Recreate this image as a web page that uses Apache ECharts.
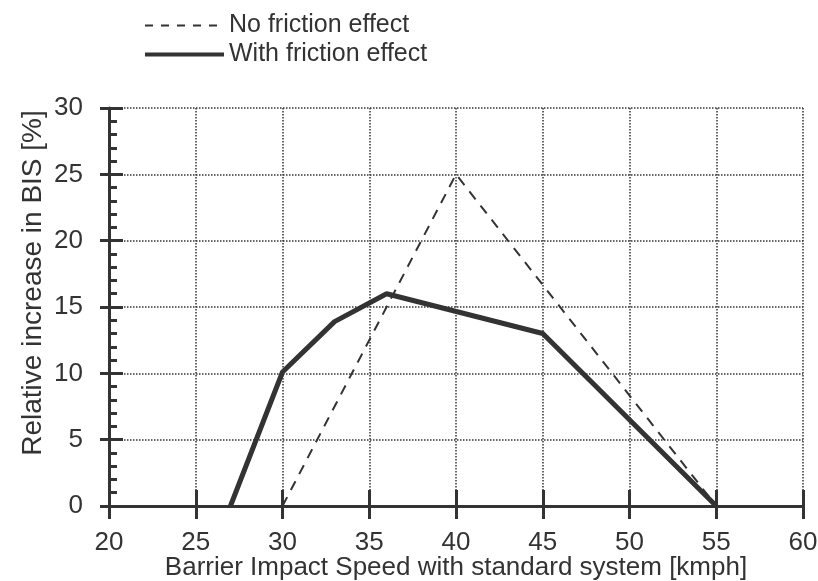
<!DOCTYPE html>
<html>
<head>
<meta charset="utf-8">
<script src="https://cdn.jsdelivr.net/npm/echarts@6/dist/echarts.min.js"></script>
<style>
  html, body { margin: 0; padding: 0; background: #fff; }
  #chart { width: 818px; height: 581px; }
</style>
</head>
<body>
<div id="chart"></div>
<script>
// 数据
const seriesNames = ['No friction effect', 'With friction effect'];
const noFrictionX = [30, 40, 55];
const noFrictionY = [0, 25, 0];
const withFrictionX = [27, 30, 33, 36, 45, 55];
const withFrictionY = [0, 10.1, 13.9, 16, 13, 0];
const xTicks = [20, 25, 30, 35, 40, 45, 50, 55, 60];
const yTicks = [0, 5, 10, 15, 20, 25, 30];

const ink = '#333';
const font = 'Liberation Sans, Arial, Helvetica, sans-serif';

function pairs(xs, ys) {
  return xs.map((x, i) => [x, ys[i]]);
}

const chart = echarts.init(document.getElementById('chart'), null, { renderer: 'canvas' });

const xBase = {
  type: 'value',
  min: xTicks[0],
  max: xTicks[xTicks.length - 1],
  interval: 5,
  position: 'bottom'
};
const yBase = {
  type: 'value',
  min: yTicks[0],
  max: yTicks[yTicks.length - 1],
  interval: 5,
  position: 'left'
};

const option = {
  backgroundColor: '#fff',
  animation: false,
  textStyle: { fontFamily: font, color: ink },
  legend: {
    orient: 'vertical',
    left: 143,
    top: 13,
    padding: 0,
    itemWidth: 79,
    itemHeight: 26,
    itemGap: 4,
    data: [
      { name: seriesNames[0], lineStyle: { width: 2, type: [8, 8] } },
      { name: seriesNames[1], lineStyle: { width: 4 } }
    ],
    itemStyle: { opacity: 0 },
    textStyle: { fontSize: 25, color: ink, fontFamily: font }
  },
  grid: { left: 109, right: 15, top: 108, bottom: 75, outerBoundsMode: 'none', containLabel: false },
  xAxis: [
    Object.assign({}, xBase, {
      name: 'Barrier Impact Speed with standard system [kmph]',
      nameLocation: 'middle',
      nameGap: 49,
      nameMoveOverlap: false,
      nameTextStyle: { fontSize: 26, color: ink, fontFamily: font },
      axisLine: { show: true, lineStyle: { color: ink, width: 3 } },
      axisTick: { show: true, inside: false, length: 13, lineStyle: { color: ink, width: 3 } },
      axisLabel: { margin: 24, fontSize: 26, color: ink, fontFamily: font },
      splitLine: { show: true, lineStyle: { color: ink, type: 'dotted', width: 1.5 } }
    }),
    Object.assign({}, xBase, {
      axisLine: { show: false },
      axisTick: { show: true, inside: true, length: 16, lineStyle: { color: ink, width: 3 } },
      axisLabel: { show: false },
      splitLine: { show: false }
    })
  ],
  yAxis: [
    Object.assign({}, yBase, {
      name: 'Relative increase in BIS [%]',
      nameLocation: 'middle',
      nameGap: 62,
      nameMoveOverlap: false,
      nameRotate: 90,
      nameTextStyle: { fontSize: 28, color: ink, fontFamily: font, padding: [0, 0, 0, 48] },
      axisLine: { show: true, lineStyle: { color: ink, width: 3 } },
      axisTick: { show: true, inside: false, length: 9, lineStyle: { color: ink, width: 3 } },
      axisLabel: { margin: 26, fontSize: 26, color: ink, fontFamily: font },
      splitLine: { show: true, lineStyle: { color: ink, type: 'dotted', width: 1.5 } }
    }),
    Object.assign({}, yBase, {
      axisLine: { show: false },
      axisTick: { show: true, inside: true, length: 14, lineStyle: { color: ink, width: 3 } },
      minorTick: { show: true, splitNumber: 5, length: 8, lineStyle: { color: ink, width: 3 } },
      axisLabel: { show: false },
      splitLine: { show: false }
    })
  ],
  series: [
    {
      name: seriesNames[0],
      type: 'line',
      symbol: 'none',
      data: pairs(noFrictionX, noFrictionY),
      lineStyle: { color: ink, width: 2, type: [10, 8] },
      itemStyle: { color: ink },
      z: 3
    },
    {
      name: seriesNames[1],
      type: 'line',
      symbol: 'none',
      data: pairs(withFrictionX, withFrictionY),
      lineStyle: { color: ink, width: 5 },
      itemStyle: { color: ink },
      z: 4
    }
  ]
};

chart.setOption(option);
</script>
</body>
</html>
